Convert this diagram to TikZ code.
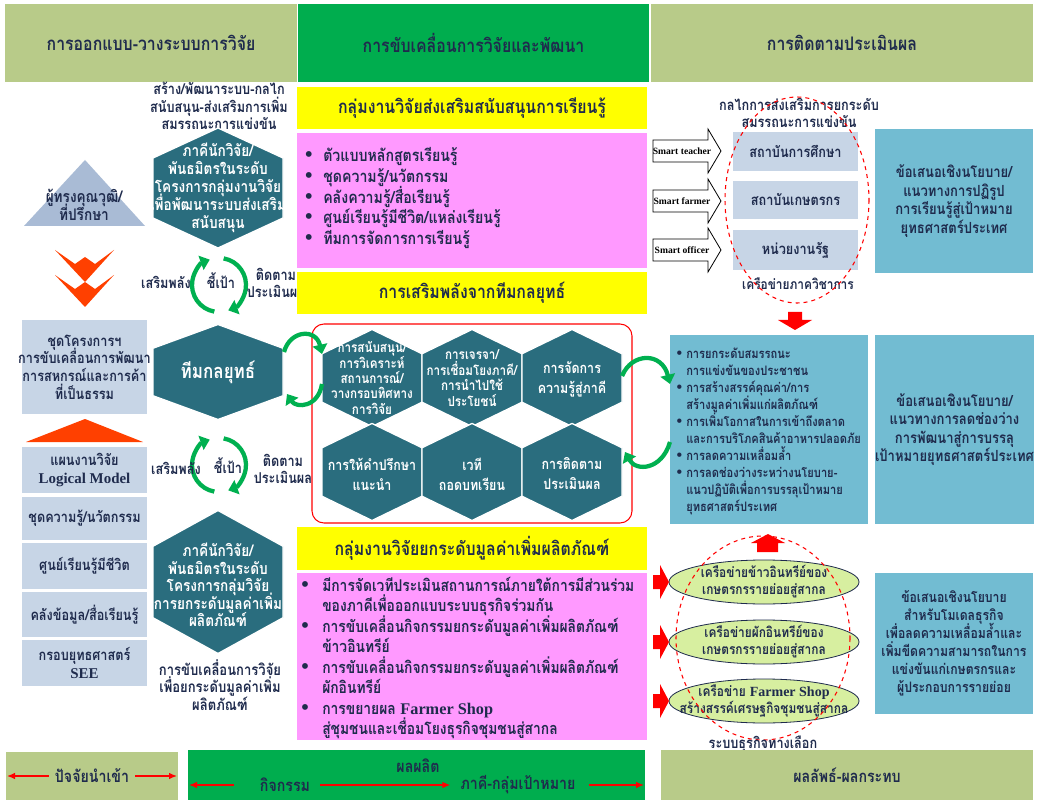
\documentclass[tikz,border=0pt]{standalone}
\usepackage{fontspec}
\setmainfont{Liberation Serif}
\newfontfamily\thai[Script=Thai,FakeStretch=0.85]{Loma}
\usetikzlibrary{arrows.meta}
\definecolor{oliveb}{HTML}{B8CB89}
\definecolor{greenb}{HTML}{00AD4E}
\definecolor{yel}{HTML}{FFFF00}
\definecolor{pinkb}{HTML}{FF99FF}
\definecolor{hexc}{HTML}{2A6D7E}
\definecolor{lbox}{HTML}{C7D5E6}
\definecolor{trib}{HTML}{A9BBD5}
\definecolor{tealb}{HTML}{72BCD2}
\definecolor{navy}{HTML}{1F2B4D}
\definecolor{garc}{HTML}{00B050}
\definecolor{chev}{HTML}{FF4000}
\definecolor{ellc}{HTML}{D7EFA0}
\newcommand{\bx}[8]{\path[#5] (#1,#2) rectangle (#3,#4); \node[#6] (#7) at ({(#1+#3)/2},{(#2+#4)/2}) {#8};}
\newcommand{\hexs}[4]{\path[hexfill] ({#1},{#2-#4/2}) -- ({#1+#3/2},{#2-#4/4}) -- ({#1+#3/2},{#2+#4/4}) -- ({#1},{#2+#4/2}) -- ({#1-#3/2},{#2+#4/4}) -- ({#1-#3/2},{#2-#4/4}) -- cycle;}
\newcommand{\cyc}[3]{%
 \draw[garrow] ({#1+#3*cos(100)},{#2+#3*sin(100)}) arc[start angle=100,end angle=250,radius=#3];
 \draw[garrow] ({#1+#3*cos(280)},{#2+#3*sin(280)}) arc[start angle=280,end angle=430,radius=#3];}
\newcommand{\bul}[2]{\llap{\smash{\rmfamily\fontsize{#1}{#1}\selectfont •}\hspace{#2}}}
\newcommand{\lat}[1]{{\rmfamily\bfseries #1}}
\begin{document}
\lineskiplimit=-100pt \lineskip=0pt
\begin{tikzpicture}[x=0.75pt,y=-0.75pt,
  t/.style={font=\thai\bfseries\fontsize{10.5}{12.8}\selectfont, text=navy, align=center, inner sep=0pt},
  tb/.style={t, font=\thai\bfseries\fontsize{11.2}{13.2}\selectfont},
  tw/.style={t, text=white},
  th/.style={t, font=\thai\bfseries\fontsize{14}{16}\selectfont},
  tm/.style={t, font=\thai\bfseries\fontsize{12.5}{15}\selectfont},
  ty/.style={t, font=\thai\bfseries\fontsize{14}{16}\selectfont},
  tlist/.style={t, align=left, anchor=west},
  hexfill/.style={fill=hexc, draw=white, line width=1pt},
  garrow/.style={draw=garc, line width=3.2pt, -{Triangle[length=7pt,width=11pt]}},
  rarrow/.style={draw=red, line width=1pt, -{Latex[length=6pt,width=5pt]}},
  redfill/.style={fill=red},
  smart/.style={draw=black, fill=white, line width=0.6pt},
  smt/.style={font=\rmfamily\bfseries\fontsize{7.2}{8}\selectfont, inner sep=0pt},
]
\path[fill=white] (0,0) rectangle (1046,802);
\useasboundingbox (0,0) rectangle (1046,802);
% ---------------- headers
\bx{5}{4}{297}{82}{fill=oliveb}{th}{hd1}{การออกแบบ-วางระบบการวิจัย}
\bx{298}{4}{649}{82}{fill=greenb}{th}{hd2}{การขับเคลื่อนการวิจัยและพัฒนา}
\bx{651}{4}{1033}{82}{fill=oliveb}{th}{hd3}{การติดตามประเมินผล}
% ---------------- left column
\node[tb] (lt) at (219,106) {สร้าง/พัฒนาระบบ-กลไก\\สนับสนุน-ส่งเสริมการเพิ่ม\\สมรรถนะการแข่งขัน};
\hexs{218}{188}{130}{120}
\node[tw, font=\thai\bfseries\fontsize{12}{13.5}\selectfont] (hx1) at (218,188) {ภาคีนักวิจัย/\\พันธมิตรในระดับ\\โครงการกลุ่มงานวิจัย\\เพื่อพัฒนาระบบส่งเสริม\\สนับสนุน};
\path[fill=trib] (24,226) -- (85,160) -- (145,226) -- cycle;
\node[t, font=\thai\bfseries\fontsize{12}{13.5}\selectfont] (adv) at (84,205) {ผู้ทรงคุณวุฒิ/\\ที่ปรึกษา};
\foreach \dy in {0,25}{
 \path[fill=chev] (55,{250+\dy}) -- (75,{264+\dy}) -- (85,{257+\dy}) -- (95,{264+\dy}) -- (114,{250+\dy}) -- (85,{282+\dy}) -- cycle;}
\cyc{219}{285}{27}
\node[tb] (c1a) at (166,282) {เสริมพลัง};
\node[tb] (c1b) at (221,281) {ชี้เป้า};
\node[tb] (c1c) at (276,283) {ติดตาม\\ประเมินผล};
\hexs{218}{372}{130}{95}
\node[tw, font=\thai\bfseries\fontsize{15}{17}\selectfont] (team) at (218,372) {ทีมกลยุทธ์};
\bx{22}{320}{147}{414}{fill=lbox}{tb}{bA}{ชุดโครงการฯ\\การขับเคลื่อนการพัฒนา\\การสหกรณ์และการค้า\\ที่เป็นธรรม}
\path[fill=chev] (26,442) -- (85,419) -- (143,442) -- cycle;
\bx{22}{447}{147}{493}{fill=lbox}{tb}{bB}{แผนงานวิจัย\\\lat{Logical Model}}
\bx{22}{497}{147}{540}{fill=lbox}{tb}{bC}{ชุดความรู้/นวัตกรรม}
\bx{22}{543}{147}{589}{fill=lbox}{tb}{bD}{ศูนย์เรียนรู้มีชีวิต}
\bx{22}{592}{147}{637}{fill=lbox}{tb}{bE}{คลังข้อมูล/สื่อเรียนรู้}
\bx{22}{640}{147}{686}{fill=lbox}{tb}{bF}{กรอบยุทธศาสตร์\\\lat{SEE}}
\cyc{219}{465}{27}
\node[tb] (c2a) at (176,468) {เสริมพลัง};
\node[tb] (c2b) at (228,466) {ชี้เป้า};
\node[tb] (c2c) at (283,469) {ติดตาม\\ประเมินผล};
\hexs{218}{582}{130}{143}
\node[tw, font=\thai\bfseries\fontsize{12}{13.2}\selectfont] (hx3) at (218,585) {ภาคีนักวิจัย/\\พันธมิตรในระดับ\\โครงการกลุ่มวิจัย\\การยกระดับมูลค่าเพิ่ม\\ผลิตภัณฑ์};
\node[t, font=\thai\bfseries\fontsize{11.5}{13}\selectfont] (lb) at (220,685) {การขับเคลื่อนการวิจัย\\เพื่อยกระดับมูลค่าเพิ่ม\\ผลิตภัณฑ์};
\bx{6}{752}{178}{800}{fill=oliveb}{tm}{in}{ปัจจัยนำเข้า}
\coordinate (inL) at (7,776); \coordinate (inR) at (177,776);
\draw[rarrow] (in.west) ++(-6,0) -- (inL);
\draw[rarrow] (in.east) ++(6,0) -- (inR);
% ---------------- middle column
\bx{297}{87}{647}{129}{fill=yel}{ty}{y1}{กลุ่มงานวิจัยส่งเสริมสนับสนุนการเรียนรู้}
\path[fill=pinkb] (297,133) rectangle (647,268);
\node[tlist, font=\thai\bfseries\fontsize{12.5}{15.4}\selectfont] (p1) at (323,198) {\bul{16}{8pt}ตัวแบบหลักสูตรเรียนรู้\\\bul{16}{8pt}ชุดความรู้/นวัตกรรม\\\bul{16}{8pt}คลังความรู้/สื่อเรียนรู้\\\bul{16}{8pt}ศูนย์เรียนรู้มีชีวิต/แหล่งเรียนรู้\\\bul{16}{8pt}ทีมการจัดการการเรียนรู้};
\bx{297}{272}{647}{314}{fill=yel}{ty}{y2}{การเสริมพลังจากทีมกลยุทธ์}
\draw[red, line width=0.8pt, rounded corners=9pt] (312,324) rectangle (632,523);
\hexs{372}{378}{100}{97}
\hexs{472}{378}{100}{97}
\hexs{572}{378}{100}{97}
\hexs{372}{472}{100}{97}
\hexs{472}{472}{100}{97}
\hexs{572}{472}{100}{97}
\node[tw, font=\thai\bfseries\fontsize{10.3}{11.6}\selectfont] (g1) at (372,378) {การสนับสนุน/\\การวิเคราะห์\\สถานการณ์/\\วางกรอบทิศทาง\\การวิจัย};
\node[tw, font=\thai\bfseries\fontsize{10.3}{11.6}\selectfont] (g2) at (472,378) {การเจรจา/\\การเชื่อมโยงภาคี/\\การนำไปใช้\\ประโยชน์};
\node[tw, font=\thai\bfseries\fontsize{11}{15}\selectfont] (g3) at (572,379) {การจัดการ\\ความรู้สู่ภาคี};
\node[tw, font=\thai\bfseries\fontsize{11}{15}\selectfont] (g4) at (372,474) {การให้คำปรึกษา\\แนะนำ};
\node[tw, font=\thai\bfseries\fontsize{11}{15}\selectfont] (g5) at (472,474) {เวที\\ถอดบทเรียน};
\node[tw, font=\thai\bfseries\fontsize{11}{15}\selectfont] (g6) at (572,474) {การติดตาม\\ประเมินผล};
\bx{297}{527}{647}{570}{fill=yel}{ty}{y3}{กลุ่มงานวิจัยยกระดับมูลค่าเพิ่มผลิตภัณฑ์}
\path[fill=pinkb] (297,573) rectangle (647,740);
\node[tlist, font=\thai\bfseries\fontsize{12.2}{15.4}\selectfont] (p2) at (322,658) {\bul{16}{10pt}มีการจัดเวทีประเมินสถานการณ์ภายใต้การมีส่วนร่วม\\ของภาคีเพื่อออกแบบระบบธุรกิจร่วมกัน\\\bul{16}{10pt}การขับเคลื่อนกิจกรรมยกระดับมูลค่าเพิ่มผลิตภัณฑ์\\ข้าวอินทรีย์\\\bul{16}{10pt}การขับเคลื่อนกิจกรรมยกระดับมูลค่าเพิ่มผลิตภัณฑ์\\ผักอินทรีย์\\\bul{16}{10pt}การขยายผล \lat{Farmer Shop}\\สู่ชุมชนและเชื่อมโยงธุรกิจชุมชนสู่สากล};
\path[fill=greenb] (188,750) rectangle (645,800);
\node[tm] (out) at (418,766) {ผลผลิต};
\node[tm] (act) at (285,785) {กิจกรรม};
\node[tm] (tgt) at (518,785) {ภาคี-กลุ่มเป้าหมาย};
\coordinate (gL) at (189,785); \coordinate (gR) at (644,785);
\draw[rarrow] (act.west) ++(-26,0) -- (gL);
\draw[rarrow] (act.east) ++(10,0) -- ([xshift=-7.5pt]tgt.west);
\draw[rarrow] (tgt.east) ++(13,0) -- (gR);
% connectors team <-> hex group
\coordinate (tmA) at (284,352); \coordinate (tmB) at (287,394);
\coordinate (grA) at (322,354); \coordinate (grB) at (322,384);
\draw[garrow] (tmA) .. controls (290,330) and (316,328) .. (grA);
\draw[garrow] (grB) .. controls (318,408) and (296,408) .. (tmB);
% ---------------- right column
\node[tb] (rt) at (799,113) {กลไกการส่งเสริมการยกระดับ\\สมรรถนะการแข่งขัน};
\foreach \cy/\nm/\lab in {151/s1/Smart teacher,201/s2/Smart farmer,250/s3/Smart officer}{
 \path[smart] (653,{\cy-11}) -- (708,{\cy-11}) -- (708,{\cy-22}) -- (721,\cy) -- (708,{\cy+22}) -- (708,{\cy+11}) -- (653,{\cy+11}) -- cycle;
 \node[smt] (\nm) at (682,\cy) {\lab};}
\bx{733}{132}{858}{171}{fill=lbox}{tb}{r1}{สถาบันการศึกษา}
\bx{733}{181}{858}{219}{fill=lbox}{tb}{r2}{สถาบันเกษตรกร}
\bx{733}{230}{858}{270}{fill=lbox}{tb}{r3}{หน่วยงานรัฐ}
\node[t] (acn) at (798,284) {เครือข่ายภาควิชาการ};
\draw[red, dashed, line width=0.8pt] (797,200) ellipse [x radius=72, y radius=103];
\path[redfill] (788,312) -- (802,312) -- (802,320) -- (812,320) -- (795,330) -- (778,320) -- (788,320) -- cycle;
\bx{875}{129}{1033}{273}{fill=tealb}{t, font=\thai\bfseries\fontsize{11.5}{13.8}\selectfont}{pr1}{ข้อเสนอเชิงนโยบาย/\\แนวทางการปฏิรูป\\การเรียนรู้สู่เป้าหมาย\\ยุทธศาสตร์ประเทศ}
\path[fill=tealb] (670,335) rectangle (868,524);
\node[tlist, font=\thai\bfseries\fontsize{9.8}{12.75}\selectfont] (ol) at (686,431) {\bul{12}{3pt}การยกระดับสมรรถนะ\\การแข่งขันของประชาชน\\\bul{12}{3pt}การสร้างสรรค์คุณค่า/การ\\สร้างมูลค่าเพิ่มแก่ผลิตภัณฑ์\\\bul{12}{3pt}การเพิ่มโอกาสในการเข้าถึงตลาด\\และการบริโภคสินค้าอาหารปลอดภัย\\\bul{12}{3pt}การลดความเหลื่อมล้ำ\\\bul{12}{3pt}การลดช่องว่างระหว่างนโยบาย-\\แนวปฏิบัติเพื่อการบรรลุเป้าหมาย\\ยุทธศาสตร์ประเทศ};
\bx{875}{335}{1034}{524}{fill=tealb}{t, font=\thai\bfseries\fontsize{11.5}{13.8}\selectfont}{pr2}{ข้อเสนอเชิงนโยบาย/\\แนวทางการลดช่องว่าง\\การพัฒนาสู่การบรรลุ\\เป้าหมายยุทธศาสตร์ประเทศ}
% connectors hex group <-> outcome box
\coordinate (gC) at (622,376); \coordinate (olA) at (670,384);
\coordinate (olB) at (670,442); \coordinate (gD) at (625,452);
\draw[garrow] (gC) .. controls (632,352) and (662,352) .. (olA);
\draw[garrow] (olB) .. controls (662,470) and (636,472) .. (gD);
\path[redfill] (764,552) -- (778,552) -- (778,543) -- (785,543) -- (768,534) -- (751,543) -- (757,543) -- (757,552) -- cycle;
\foreach \cy/\nm/\lab in {582/e1/{เครือข่ายข้าวอินทรีย์ของ\\เกษตรกรรายย่อยสู่สากล},642/e2/{เครือข่ายผักอินทรีย์ของ\\เกษตรกรรายย่อยสู่สากล},701/e3/{เครือข่าย \lat{Farmer Shop}\\สร้างสรรค์เศรษฐกิจชุมชนสู่สากล}}{
 \path[fill=ellc, draw=navy, line width=0.6pt] (764,\cy) ellipse [x radius=95, y radius=22];
 \node[t] (\nm) at (764,\cy) {\lab};
 \path[redfill] (653,{\cy-7}) -- (660,{\cy-7}) -- (660,{\cy-17}) -- (669,\cy) -- (660,{\cy+17}) -- (660,{\cy+7}) -- (653,{\cy+7}) -- cycle;}
\draw[red, dashed, line width=0.8pt] (763,638) ellipse [x radius=87, y radius=102];
\node[tb] (alt) at (763,744) {ระบบธุรกิจทางเลือก};
\bx{875}{573}{1033}{714}{fill=tealb}{t, font=\thai\bfseries\fontsize{10.8}{13.5}\selectfont}{pr3}{ข้อเสนอเชิงนโยบาย\\สำหรับโมเดลธุรกิจ\\เพื่อลดความเหลื่อมล้ำและ\\เพิ่มขีดความสามารถในการ\\แข่งขันแก่เกษตรกรและ\\ผู้ประกอบการรายย่อย}
\bx{661}{750}{1033}{800}{fill=oliveb}{tm}{res}{ผลลัพธ์-ผลกระทบ}
\end{tikzpicture}
\end{document}
